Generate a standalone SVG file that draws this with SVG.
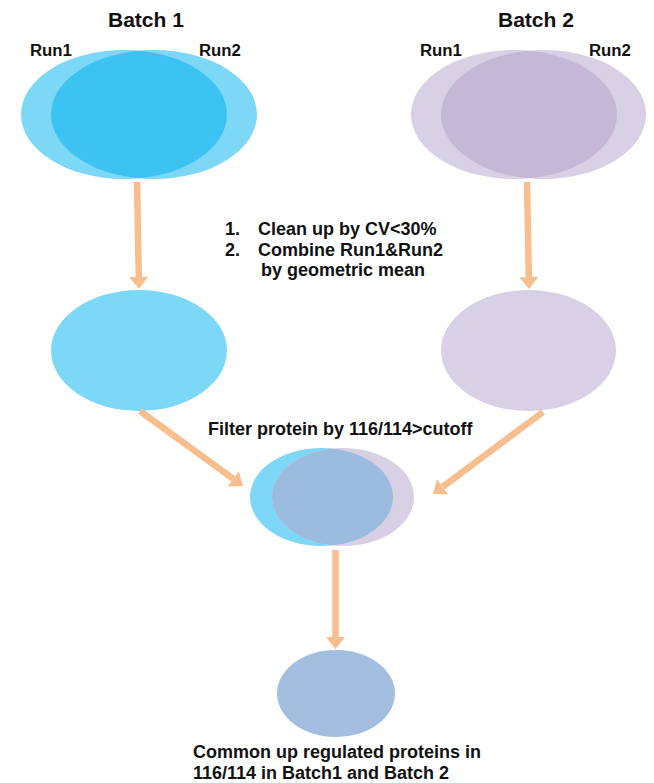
<svg xmlns="http://www.w3.org/2000/svg" width="654" height="783" viewBox="0 0 654 783">
<style>
text{font-family:"Liberation Sans",Arial,sans-serif;font-weight:bold;fill:#111}
.t21{font-size:21px}.t17{font-size:16.8px}.t18{font-size:18px}
.cyan{fill:#7DD7F6}.cyanD{fill:#3DC3F2}.pur{fill:#D8D0E5}.purD{fill:#C5B8D4}
.arr{stroke:#F9BE8D;stroke-width:6.5;fill:none;marker-end:url(#ah)}
</style>
<defs>
<marker id="ah" markerUnits="userSpaceOnUse" markerWidth="13" markerHeight="20" refX="0" refY="9.5" orient="auto" overflow="visible">
<path d="M0,0 L12,9.5 L0,19 Z" fill="#F9BE8D"/>
</marker>
<clipPath id="c1"><ellipse cx="124" cy="114.5" rx="103" ry="64.5"/></clipPath>
<clipPath id="c2"><ellipse cx="514" cy="114.5" rx="103" ry="64.5"/></clipPath>
<clipPath id="c3"><ellipse cx="321.5" cy="497" rx="71.5" ry="49"/></clipPath>
</defs>
<g id="batch1">
<text class="t21" x="108" y="27">Batch 1</text>
<text class="t17" x="30" y="56">Run1</text>
<text class="t17" x="199" y="56">Run2</text>
<ellipse class="cyan" cx="124" cy="114.5" rx="103" ry="64.5"/>
<ellipse class="cyan" cx="154" cy="114.5" rx="103" ry="64.5"/>
<ellipse class="cyanD" cx="154" cy="114.5" rx="103" ry="64.5" clip-path="url(#c1)"/>
</g>
<g id="batch2">
<text class="t21" x="498" y="27">Batch 2</text>
<text class="t17" x="420" y="56">Run1</text>
<text class="t17" x="589" y="56">Run2</text>
<ellipse class="pur" cx="514" cy="114.5" rx="103" ry="64.5"/>
<ellipse class="pur" cx="543.5" cy="114.5" rx="102.5" ry="64.5"/>
<ellipse class="purD" cx="543.5" cy="114.5" rx="102.5" ry="64.5" clip-path="url(#c2)"/>
</g>
<g id="steps">
<text class="t18" x="225" y="235">1.</text>
<text class="t18" x="258" y="235">Clean up by CV&lt;30%</text>
<text class="t18" x="225" y="256">2.</text>
<text class="t18" x="258" y="256">Combine Run1&amp;Run2</text>
<text class="t18" x="261" y="276">by geometric mean</text>
</g>
<g id="combined1">
<ellipse class="cyan" cx="139" cy="350.5" rx="88" ry="60.5"/>
</g>
<g id="combined2">
<ellipse class="pur" cx="528.5" cy="350.5" rx="87.5" ry="60.5"/>
</g>
<g id="filter">
<text class="t18" x="208" y="435">Filter protein by 116/114&gt;cutoff</text>
<ellipse class="cyan" cx="321.5" cy="497" rx="71.5" ry="49"/>
<ellipse class="pur" cx="343" cy="497" rx="71" ry="49"/>
<ellipse fill="#9BBCDF" cx="343" cy="497" rx="71" ry="49" clip-path="url(#c3)"/>
</g>
<g id="common">
<ellipse fill="#A3BEDE" cx="336" cy="693.5" rx="59" ry="43.5"/>
<text class="t18" x="193" y="758">Common up regulated proteins in</text>
<text class="t18" x="193" y="779">116/114 in Batch1 and Batch 2</text>
</g>
<g id="connectors">
<line class="arr" x1="137" y1="182" x2="138.8" y2="277"/>
<line class="arr" x1="527" y1="182" x2="528.8" y2="277"/>
<line class="arr" x1="140" y1="411" x2="233.3" y2="478.9"/>
<line class="arr" x1="543" y1="412" x2="442.6" y2="486.8"/>
<line class="arr" x1="335.5" y1="550" x2="335.5" y2="637"/>
</g>
</svg>
